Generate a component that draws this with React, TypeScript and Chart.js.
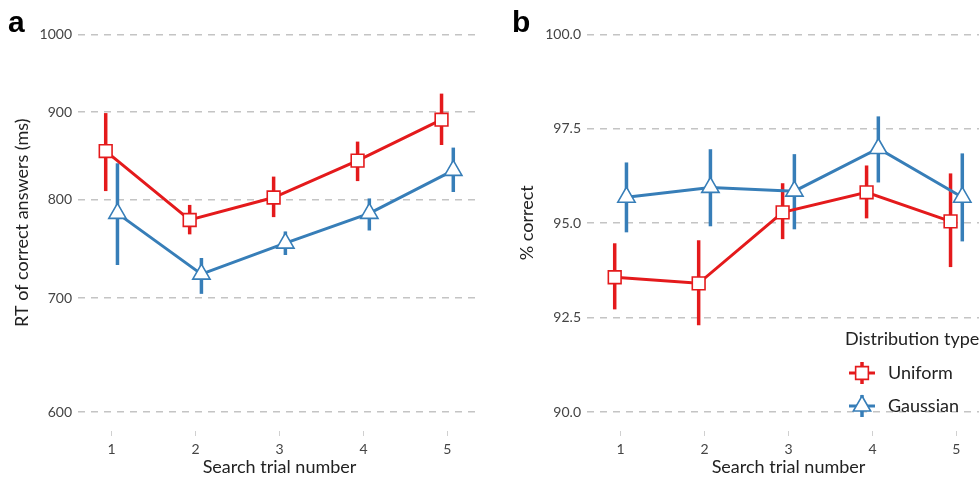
import React, { useEffect, useRef } from "react";
import { Chart, registerables } from "chart.js";
Chart.register(...registerables);

const trials = [1, 2, 3, 4, 5];
const xTickLabels = ["1", "2", "3", "4", "5"];
const rtUniform = [854, 778, 802, 843, 891];
const rtUniformLow = [809, 763, 781, 820, 861];
const rtUniformHigh = [899, 794, 825, 865, 923];
const rtGaussian = [785, 723, 754, 785, 832];
const rtGaussianLow = [732, 704, 742, 767, 808];
const rtGaussianHigh = [840, 739, 766, 801, 858];
const accUniform = [93.57, 93.41, 95.29, 95.82, 95.05];
const accUniformLow = [92.72, 92.3, 94.58, 95.13, 93.84];
const accUniformHigh = [94.47, 94.55, 96.06, 96.53, 96.32];
const accGaussian = [95.69, 95.95, 95.85, 96.98, 95.69];
const accGaussianLow = [94.76, 94.92, 94.84, 96.08, 94.52];
const accGaussianHigh = [96.61, 96.96, 96.83, 97.83, 96.85];
const rtTicks = [600, 700, 800, 900, 1000];
const accTicks = [90, 92.5, 95, 97.5, 100];
const seriesNames = ["Uniform", "Gaussian"];
const legendTitle = "Distribution type";
const dodge = 0.07;

const RED = "#e41a1c";
const BLUE = "#377eb8";
const FONT = "Lato, 'Open Sans', sans-serif";

type PanelCfg = {
  letter: string;
  letterX: number;
  yTitle: string;
  yTitlePad: number;
  yType: "logarithmic" | "linear";
  yMin: number;
  yMax: number;
  yTicks: number[];
  yFmt: (v: number) => string;
  yWidth: number;
  padRight: number;
  uniform: number[];
  uLow: number[];
  uHigh: number[];
  gauss: number[];
  gLow: number[];
  gHigh: number[];
  legend: boolean;
};

function drawMarker(ctx: CanvasRenderingContext2D, style: string, x: number, y: number, r: number, color: string) {
  ctx.save();
  ctx.fillStyle = "#ffffff";
  ctx.strokeStyle = color;
  ctx.lineWidth = 1.6;
  ctx.beginPath();
  if (style === "rect") {
    const s = Math.SQRT1_2 * r;
    ctx.rect(x - s, y - s, 2 * s, 2 * s);
  } else {
    let rad = 0;
    ctx.moveTo(x + Math.sin(rad) * r, y - Math.cos(rad) * r);
    rad += (2 * Math.PI) / 3;
    ctx.lineTo(x + Math.sin(rad) * r, y - Math.cos(rad) * r);
    rad += (2 * Math.PI) / 3;
    ctx.lineTo(x + Math.sin(rad) * r, y - Math.cos(rad) * r);
    ctx.closePath();
  }
  ctx.fill();
  ctx.stroke();
  ctx.restore();
}

function Panel({ cfg, width, left }: { cfg: PanelCfg; width: number; left: number }) {
  const ref = useRef<HTMLCanvasElement | null>(null);
  useEffect(() => {
    if (!ref.current) return;
    const errPlugin = {
      id: "errbars",
      beforeDatasetsDraw(chart: any) {
        const ctx = chart.ctx;
        const xs = chart.scales.x;
        const ys = chart.scales.y;
        const sets = [
          { lo: cfg.uLow, hi: cfg.uHigh, off: -dodge, color: RED },
          { lo: cfg.gLow, hi: cfg.gHigh, off: dodge, color: BLUE },
        ];
        ctx.save();
        ctx.lineCap = "butt";
        sets.forEach((s) => {
          ctx.strokeStyle = s.color;
          ctx.lineWidth = 3.5;
          trials.forEach((t, i) => {
            const x = xs.getPixelForValue(t + s.off);
            ctx.beginPath();
            ctx.moveTo(x, ys.getPixelForValue(s.lo[i]));
            ctx.lineTo(x, ys.getPixelForValue(s.hi[i]));
            ctx.stroke();
          });
        });
        ctx.restore();
      },
      afterDraw(chart: any) {
        const ctx = chart.ctx;
        ctx.save();
        ctx.fillStyle = "#000";
        ctx.font = "bold 30px 'Liberation Sans', Arial, sans-serif";
        ctx.textBaseline = "alphabetic";
        ctx.fillText(cfg.letter, cfg.letterX, 32);
        if (cfg.legend) {
          ctx.fillStyle = "#222";
          ctx.font = "18px " + FONT;
          ctx.textBaseline = "middle";
          ctx.fillText(legendTitle, 355, 339);
          const items = [
            { name: seriesNames[0], color: RED, style: "rect", r: 9, y: 373 },
            { name: seriesNames[1], color: BLUE, style: "triangle", r: 10, y: 406 },
          ];
          items.forEach((it) => {
            const cx = 372;
            ctx.strokeStyle = it.color;
            ctx.lineWidth = 3;
            ctx.beginPath();
            ctx.moveTo(cx - 13, it.y);
            ctx.lineTo(cx + 13, it.y);
            ctx.stroke();
            ctx.lineWidth = 3.5;
            ctx.beginPath();
            ctx.moveTo(cx, it.y - 11);
            ctx.lineTo(cx, it.y + 11);
            ctx.stroke();
            drawMarker(ctx, it.style, cx, it.y, it.r, it.color);
            ctx.fillStyle = "#222";
            ctx.font = "18px " + FONT;
            ctx.fillText(it.name, 398, it.y);
          });
        }
        ctx.restore();
      },
    };
    const chart = new Chart(ref.current, {
      type: "line",
      data: {
        datasets: [
          {
            label: seriesNames[0],
            data: trials.map((t, i) => ({ x: t - dodge, y: cfg.uniform[i] })),
            borderColor: RED,
            borderWidth: 3,
            pointStyle: "rect",
            pointRadius: 9,
            pointBackgroundColor: "#ffffff",
            pointBorderColor: RED,
            pointBorderWidth: 1.6,
            tension: 0,
          },
          {
            label: seriesNames[1],
            data: trials.map((t, i) => ({ x: t + dodge, y: cfg.gauss[i] })),
            borderColor: BLUE,
            borderWidth: 3,
            pointStyle: "triangle",
            pointRadius: 10,
            pointBackgroundColor: "#ffffff",
            pointBorderColor: BLUE,
            pointBorderWidth: 1.6,
            tension: 0,
          },
        ],
      },
      options: {
        animation: false,
        responsive: false,
        layout: { autoPadding: false, padding: { left: 0, right: cfg.padRight, top: 14, bottom: 0 } },
        plugins: { legend: { display: false }, tooltip: { enabled: false } },
        scales: {
          x: {
            type: "linear",
            min: 0.6,
            max: 5.4,
            afterBuildTicks: (s: any) => {
              s.ticks = trials.map((v) => ({ value: v }));
            },
            afterFit: (s: any) => {
              s.height = 47;
            },
            ticks: {
              callback: (v: any) => xTickLabels[trials.indexOf(Number(v))] ?? "",
              font: { family: FONT, size: 14 },
              color: "#444",
              padding: 5,
              maxRotation: 0,
            },
            grid: {
              drawOnChartArea: false,
              drawTicks: true,
              tickLength: 5,
              color: "#d0d0d0",
              tickWidth: 1,
            },
            border: { display: false },
            title: {
              display: true,
              text: "Search trial number",
              font: { family: FONT, size: 18 },
              color: "#222",
              padding: { top: 0, bottom: 0 },
            },
          },
          y: {
            type: cfg.yType,
            min: cfg.yMin,
            max: cfg.yMax,
            afterBuildTicks: (s: any) => {
              s.ticks = cfg.yTicks.map((v) => ({ value: v }));
            },
            afterFit: (s: any) => {
              s.width = cfg.yWidth;
            },
            ticks: {
              callback: (v: any) => cfg.yFmt(Number(v)),
              font: { family: FONT, size: 14 },
              color: "#444",
              padding: 6,
            },
            grid: {
              drawTicks: false,
              color: "#c4c4c4",
              lineWidth: 1.6,
            },
            border: { display: false, dash: [7, 6] },
            title: {
              display: true,
              text: cfg.yTitle,
              font: { family: FONT, size: 18 },
              color: "#222",
              padding: { top: cfg.yTitlePad, bottom: 0 },
            },
          },
        },
      } as any,
      plugins: [errPlugin],
    });
    return () => chart.destroy();
  }, []);
  return (
    <div style={{ position: "absolute", left, top: 0, width, height: 478 }}>
      <canvas ref={ref} width={width} height={478} style={{ display: "block" }} />
    </div>
  );
}

const leftCfg: PanelCfg = {
  letter: "a",
  letterX: 8,
  yTitle: "RT of correct answers (ms)",
  yTitlePad: 11.2,
  yType: "logarithmic",
  yMin: 584.8,
  yMax: 1027.4,
  yTicks: rtTicks,
  yFmt: (v) => String(v),
  yWidth: 78,
  padRight: 9,
  uniform: rtUniform,
  uLow: rtUniformLow,
  uHigh: rtUniformHigh,
  gauss: rtGaussian,
  gLow: rtGaussianLow,
  gHigh: rtGaussianHigh,
  legend: false,
};

const rightCfg: PanelCfg = {
  letter: "b",
  letterX: 22,
  yTitle: "% correct",
  yTitlePad: 26.2,
  yType: "linear",
  yMin: 89.5,
  yMax: 100.53,
  yTicks: accTicks,
  yFmt: (v) => v.toFixed(1),
  yWidth: 97,
  padRight: 0,
  uniform: accUniform,
  uLow: accUniformLow,
  uHigh: accUniformHigh,
  gauss: accGaussian,
  gLow: accGaussianLow,
  gHigh: accGaussianHigh,
  legend: true,
};

export default function App() {
  return (
    <div
      style={{
        position: "fixed",
        left: 0,
        top: 0,
        width: 979,
        height: 478,
        overflow: "hidden",
        background: "#fff",
      }}
    >
      <Panel cfg={leftCfg} width={490} left={0} />
      <Panel cfg={rightCfg} width={500} left={490} />
    </div>
  );
}
